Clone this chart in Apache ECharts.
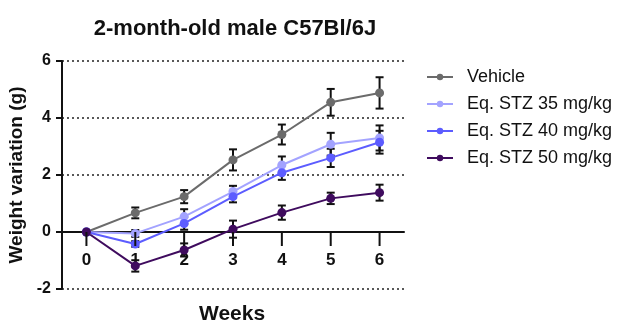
<!DOCTYPE html>
<html>
<head>
<meta charset="utf-8">
<script src="https://cdn.jsdelivr.net/npm/echarts@6/dist/echarts.min.js"></script>
<style>
  html, body { margin: 0; padding: 0; background: #fff; }
  #chart { width: 617px; height: 324px; }
</style>
</head>
<body>
<div id="chart"></div>
<script>
// Weekly weight change per treatment group (mean and SEM, grams)
const weeks = ['0', '1', '2', '3', '4', '5', '6'];
const seriesNames = ['Vehicle', 'Eq. STZ 35 mg/kg', 'Eq. STZ 40 mg/kg', 'Eq. STZ 50 mg/kg'];
const vehicleMean = [0, 0.67, 1.24, 2.53, 3.42, 4.55, 4.88];
const vehicleErr  = [0, 0.19, 0.23, 0.37, 0.35, 0.47, 0.55];
const stz35Mean   = [0, -0.05, 0.54, 1.42, 2.35, 3.08, 3.30];
const stz35Err    = [0, 0.12, 0.26, 0.20, 0.30, 0.40, 0.44];
const stz40Mean   = [0, -0.42, 0.30, 1.24, 2.08, 2.60, 3.15];
const stz40Err    = [0, 0.10, 0.22, 0.20, 0.25, 0.32, 0.40];
const stz50Mean   = [0, -1.19, -0.63, 0.10, 0.68, 1.18, 1.38];
const stz50Err    = [0, 0.20, 0.23, 0.30, 0.25, 0.20, 0.28];
const yTicks = [-2, 0, 2, 4, 6];

const colors = ['#6b6b6b', '#a3a3ff', '#5c5cff', '#3f0b5e'];
const means = [vehicleMean, stz35Mean, stz40Mean, stz50Mean];
const errs = [vehicleErr, stz35Err, stz40Err, stz50Err];

const font = '"Liberation Sans", Arial, sans-serif';

// Plot area geometry; the category axis is shifted up to sit on y = 0
const gridTop = 61, gridBottom = 35, chartH = 324;
const plotH = chartH - gridTop - gridBottom;
const zeroOffset = -plotH * (0 - yTicks[0]) / (yTicks[yTicks.length - 1] - yTicks[0]);

function errorBarSeries(mean, err) {
  const data = mean.map((m, i) => [i, m - err[i], m + err[i]]);
  return {
    type: 'custom',
    z: 1,
    silent: true,
    data: data,
    renderItem: function (params, api) {
      if (api.value(2) === api.value(1)) return null;
      const x = api.value(0);
      const lo = api.coord([x, api.value(1)]);
      const hi = api.coord([x, api.value(2)]);
      const cap = 4;
      const style = { stroke: '#111', lineWidth: 2 };
      return {
        type: 'group',
        children: [
          { type: 'line', shape: { x1: lo[0], y1: lo[1], x2: hi[0], y2: hi[1] }, style: style },
          { type: 'line', shape: { x1: lo[0] - cap, y1: lo[1], x2: lo[0] + cap, y2: lo[1] }, style: style },
          { type: 'line', shape: { x1: hi[0] - cap, y1: hi[1], x2: hi[0] + cap, y2: hi[1] }, style: style }
        ]
      };
    }
  };
}

const lineSeries = means.map((m, k) => ({
  name: seriesNames[k],
  type: 'line',
  data: m,
  z: 3,
  symbol: 'circle',
  symbolSize: 9,
  lineStyle: { width: 2, color: colors[k] },
  itemStyle: { color: colors[k] }
}));

const weeksLabel = {
  type: 'text',
  left: 199,
  top: 304,
  style: { text: 'Weeks', font: 'bold 21px ' + font, fill: '#111' }
};

const chart = echarts.init(document.getElementById('chart'), null, { renderer: 'canvas' });
chart.setOption({
  animation: false,
  backgroundColor: '#fff',
  color: colors,
  title: {
    text: '2-month-old male C57Bl/6J',
    left: 230,
    textAlign: 'center',
    top: 13,
    textStyle: { fontFamily: font, fontSize: 22, fontWeight: 'bold', color: '#111' }
  },
  legend: {
    orient: 'vertical',
    left: 421,
    top: 63,
    itemWidth: 26,
    itemHeight: 8,
    itemGap: 9,
    data: seriesNames,
    textStyle: { fontFamily: font, fontSize: 18, lineHeight: 18, color: '#111', padding: [0, 0, 0, 9] }
  },
  graphic: [weeksLabel],
  grid: { left: 62, right: 213, top: gridTop, bottom: gridBottom, containLabel: false, outerBoundsMode: 'none' },
  xAxis: {
    type: 'category',
    data: weeks,
    boundaryGap: true,
    position: 'bottom',
    offset: zeroOffset,
    axisLine: { onZero: false, lineStyle: { color: '#111', width: 2 } },
    axisTick: { show: false },
    axisLabel: { fontFamily: font, fontSize: 17, fontWeight: 'bold', color: '#111', margin: 20 },
    splitLine: { show: false }
  },
  yAxis: {
    type: 'value',
    min: yTicks[0],
    max: yTicks[yTicks.length - 1],
    interval: 2,
    name: 'Weight variation (g)',
    nameLocation: 'middle',
    nameGap: 25,
    nameTextStyle: { fontFamily: font, fontSize: 19, fontWeight: 'bold', color: '#111' },
    axisLine: { show: true, onZero: false, lineStyle: { color: '#111', width: 2 } },
    axisTick: { show: true, length: 6, lineStyle: { color: '#111', width: 2 } },
    axisLabel: { fontFamily: font, fontSize: 16, fontWeight: 'bold', color: '#111', margin: 11 },
    splitLine: { show: true, lineStyle: { color: '#222', width: 1.5, type: [2, 3] } }
  },
  series: lineSeries.concat(means.map((m, k) => errorBarSeries(m, errs[k])))
});

// Week tick marks hanging below the zero line, placed through the axis scales
const weekTicks = weeks.map((w, i) => {
  const p = chart.convertToPixel({ xAxisIndex: 0, yAxisIndex: 0 }, [i, 0]);
  return {
    type: 'line',
    z: 10,
    silent: true,
    shape: { x1: p[0], y1: p[1], x2: p[0], y2: p[1] + 14 },
    style: { stroke: '#111', lineWidth: 2 }
  };
});
chart.setOption({ graphic: [weeksLabel].concat(weekTicks) });
</script>
</body>
</html>
